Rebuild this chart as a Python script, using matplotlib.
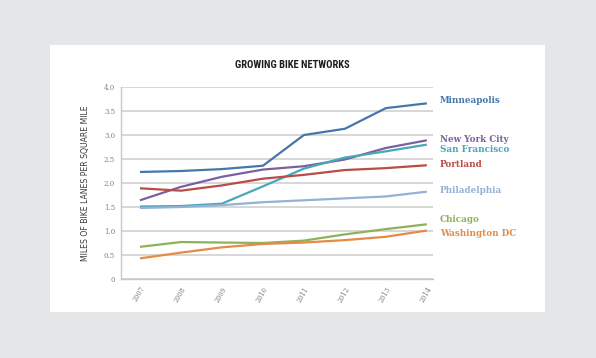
#!/usr/bin/env python3
"""
Line chart of bike lane density for a few US cities
"""

import matplotlib
matplotlib.use("Agg")
import matplotlib.pyplot as plt
from matplotlib import font_manager
from matplotlib.patches import Rectangle

years = [2007, 2008, 2009, 2010, 2011, 2012, 2013, 2014]

minneapolis = [2.24, 2.26, 2.30, 2.37, 3.01, 3.14, 3.57, 3.67]
new_york = [1.65, 1.93, 2.14, 2.29, 2.36, 2.50, 2.74, 2.90]
san_francisco = [1.52, 1.53, 1.58, 1.94, 2.31, 2.54, 2.67, 2.81]
portland = [1.90, 1.85, 1.96, 2.10, 2.18, 2.28, 2.32, 2.38]
philadelphia = [1.49, 1.51, 1.55, 1.61, 1.65, 1.69, 1.73, 1.83]
chicago = [0.68, 0.78, 0.77, 0.76, 0.81, 0.94, 1.05, 1.15]
washington = [0.44, 0.56, 0.67, 0.74, 0.77, 0.82, 0.89, 1.02]

cities = ["Minneapolis", "New York City", "San Francisco", "Portland",
          "Philadelphia", "Chicago", "Washington DC"]
series = [minneapolis, new_york, san_francisco, portland,
          philadelphia, chicago, washington]
colors = ["#4677ab", "#7b60a0", "#47a8b8", "#b94c47",
          "#94b1d6", "#8db25a", "#e58b45"]
# label heights at the right end (nudged so they don't overlap)
label_y = [3.72, 2.91, 2.71, 2.39, 1.86, 1.24, 0.95]

y_ticks = [0, 0.5, 1.0, 1.5, 2.0, 2.5, 3.0, 3.5, 4.0]
y_tick_labels = ["0", "0.5", "1.0", "1.5", "2.0", "2.5", "3.0", "3.5", "4.0"]


def narrow_font():
    """first condensed family that is installed, else None"""
    for name in ("Liberation Sans Narrow", "DejaVu Sans Condensed",
                 "Roboto Condensed", "Open Sans Condensed"):
        try:
            font_manager.findfont(name, fallback_to_default=False)
            return name
        except ValueError:
            continue
    return None


def main():
    fig = plt.figure(figsize=(5.96, 3.58), dpi=100)
    fig.patch.set_facecolor("#e5e6e8")

    # white card behind the chart
    fig.patches.append(Rectangle((50 / 596, 1 - 312 / 358), 495 / 596, 267 / 358,
                                 transform=fig.transFigure, facecolor="white",
                                 edgecolor="none", zorder=-1))

    ax = fig.add_axes([0.2025, 0.2193, 0.5240, 0.5363])
    ax.set_facecolor("none")

    for values, color in zip(series, colors):
        ax.plot(years, values, color=color, linewidth=1.6, solid_capstyle="butt",
                zorder=3)

    for name, y, color in zip(cities, label_y, colors):
        ax.text(2014.32, y, name, color=color, fontsize=6.3, fontweight="bold",
                family="DejaVu Serif", va="center", ha="left", clip_on=False)

    ax.set_xlim(2006.53, 2014.15)
    ax.set_ylim(0, 4.0)
    ax.set_yticks(y_ticks)
    ax.set_yticklabels(y_tick_labels, fontsize=5, color="#808080",
                       family="DejaVu Serif")
    ax.set_xticks(years)
    ax.set_xticklabels([str(y) for y in years], rotation=60, fontsize=4.8,
                       color="#808080", family="DejaVu Serif", ha="right",
                       rotation_mode="anchor")
    ax.tick_params(length=0, pad=4)

    ax.grid(axis="y", color="#d4d4d4", linewidth=1.3, zorder=1)
    ax.set_axisbelow(True)
    for side in ("top", "right"):
        ax.spines[side].set_visible(False)
    for side in ("left", "bottom"):
        ax.spines[side].set_color("#c8c8c8")
        ax.spines[side].set_linewidth(1.0)

    ax.set_ylabel("MILES OF BIKE LANES PER SQUARE MILE", fontsize=5.6,
                  color="#3a3a3a", family="DejaVu Sans", labelpad=10)

    title_font = narrow_font()
    if title_font:
        fig.text(292 / 596, 1 - 65 / 358, "GROWING BIKE NETWORKS",
                 fontsize=7.6, fontweight="bold", family=title_font,
                 color="#1e1e1e", ha="center", va="center")
    else:
        fig.text(292 / 596, 1 - 65 / 358, "GROWING BIKE NETWORKS",
                 fontsize=6.5, fontweight="bold", family="DejaVu Sans",
                 color="#1e1e1e", ha="center", va="center")

    fig.savefig("out.png", dpi=100, facecolor=fig.get_facecolor())


if __name__ == "__main__":
    main()
